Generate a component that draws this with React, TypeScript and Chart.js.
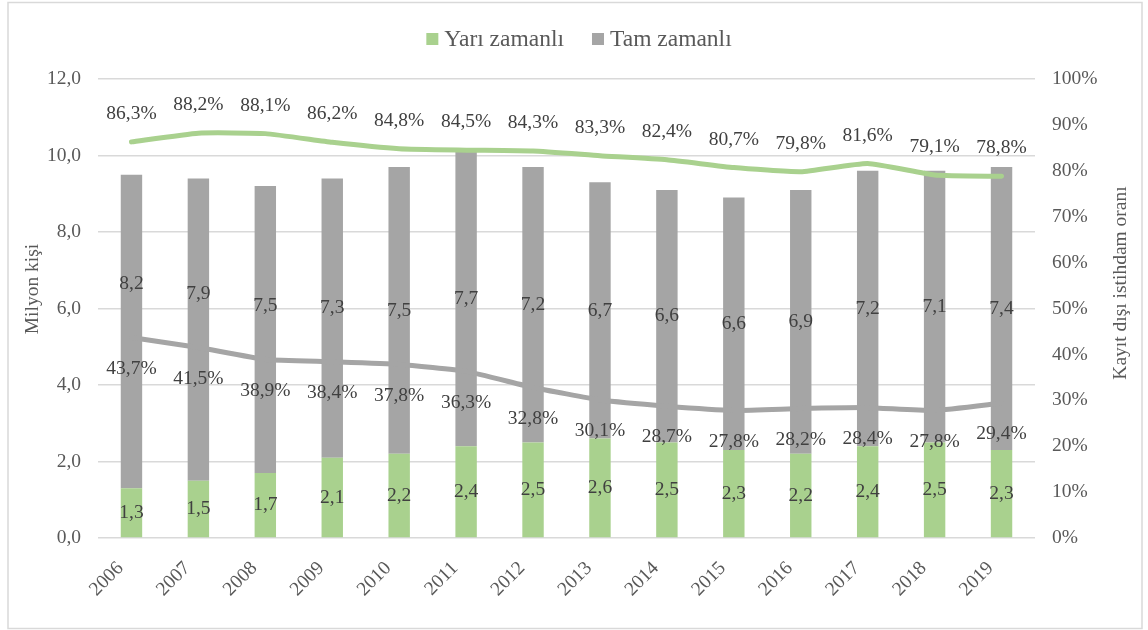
import React, { useEffect, useRef } from "react";
import { Chart, registerables } from "chart.js";

Chart.register(...registerables);

const years = ["2006", "2007", "2008", "2009", "2010", "2011", "2012", "2013", "2014", "2015", "2016", "2017", "2018", "2019"];
const partTime = [1.3, 1.5, 1.7, 2.1, 2.2, 2.4, 2.5, 2.6, 2.5, 2.3, 2.2, 2.4, 2.5, 2.3];
const fullTime = [8.2, 7.9, 7.5, 7.3, 7.5, 7.7, 7.2, 6.7, 6.6, 6.6, 6.9, 7.2, 7.1, 7.4];
const partTimeInformalRate = [86.3, 88.2, 88.1, 86.2, 84.8, 84.5, 84.3, 83.3, 82.4, 80.7, 79.8, 81.6, 79.1, 78.8];
const fullTimeInformalRate = [43.7, 41.5, 38.9, 38.4, 37.8, 36.3, 32.8, 30.1, 28.7, 27.8, 28.2, 28.4, 27.8, 29.4];

const seriesNames = ["Yarı zamanlı", "Tam zamanlı"];
const leftTitle = "Milyon kişi";
const rightTitle = "Kayıt dışı istihdam oranı";

const GREEN = "#A9D18E";
const GRAY = "#A5A5A5";
const FONT = '"Liberation Serif", "Times New Roman", serif';
const TICK_COLOR = "#595959";
const LABEL_COLOR = "#404040";

const fmt1 = (v: number) => v.toFixed(1).replace(".", ",");

const decorPlugin = {
  id: "decor",
  afterDraw(chart: any) {
    const ctx = chart.ctx;
    ctx.save();
    // outer border
    ctx.strokeStyle = "#D9D9D9";
    ctx.lineWidth = 1.5;
    ctx.strokeRect(8, 2.5, 1134, 626);

    // legend (bar series only)
    ctx.font = `23.5px ${FONT}`;
    ctx.textBaseline = "middle";
    ctx.textAlign = "left";
    const items = chart.data.datasets.filter((d: any) => d.type === "bar");
    const box = 12;
    const gap = 6;
    const between = 28;
    const widths = items.map((d: any) => box + gap + ctx.measureText(d.label).width);
    const total = widths.reduce((a: number, b: number) => a + b, 0) + between * (items.length - 1);
    let x = chart.width / 2 + 5 - total / 2;
    const ly = 39;
    items.forEach((d: any, i: number) => {
      ctx.fillStyle = d.backgroundColor;
      ctx.fillRect(x, ly - box / 2, box, box);
      ctx.fillStyle = TICK_COLOR;
      ctx.fillText(d.label, x + box + gap, ly + 1);
      x += widths[i] + between;
    });

    // axis titles (both read bottom-to-top)
    ctx.font = `19.5px ${FONT}`;
    ctx.fillStyle = TICK_COLOR;
    ctx.textAlign = "center";
    ctx.textBaseline = "middle";
    ctx.save();
    ctx.translate(33, 289);
    ctx.rotate(-Math.PI / 2);
    ctx.fillText(leftTitle, 0, 0);
    ctx.restore();
    ctx.save();
    ctx.translate(1121, 283);
    ctx.rotate(-Math.PI / 2);
    ctx.fillText(rightTitle, 0, 0);
    ctx.restore();
    ctx.restore();
  },
};

const labelPlugin = {
  id: "valueLabels",
  afterDatasetsDraw(chart: any) {
    const ctx = chart.ctx;
    ctx.save();
    ctx.font = `19.5px ${FONT}`;
    ctx.fillStyle = LABEL_COLOR;
    ctx.textAlign = "center";
    ctx.textBaseline = "middle";
    const ds = chart.data.datasets;
    // line labels
    const lineLabelY: Record<string, number[]> = {};
    ds.forEach((d: any, di: number) => {
      if (d.type !== "line") return;
      const meta = chart.getDatasetMeta(di);
      lineLabelY[d.key] = [];
      meta.data.forEach((p: any, i: number) => {
        const y = d.labelPos === "above" ? p.y - 28 : p.y + 31;
        lineLabelY[d.key].push(y);
        ctx.fillText(fmt1(d.data[i]) + "%", p.x, y);
      });
    });
    // bar labels (centered in segment, nudged up to avoid the line labels)
    ds.forEach((d: any, di: number) => {
      if (d.type !== "bar") return;
      const meta = chart.getDatasetMeta(di);
      meta.data.forEach((b: any, i: number) => {
        let y = (b.y + b.base) / 2;
        if (d.avoid && lineLabelY[d.avoid]) {
          y = Math.min(y, lineLabelY[d.avoid][i] - 85);
        }
        ctx.fillText(fmt1(d.data[i]), b.x, y);
      });
    });
    ctx.restore();
  },
};

export default function App() {
  const ref = useRef<HTMLCanvasElement>(null);

  useEffect(() => {
    if (!ref.current) return;
    const tickFont = { family: FONT, size: 19.5 };
    const chart = new Chart(ref.current, {
      type: "bar",
      data: {
        labels: years,
        datasets: [
          {
            type: "line",
            key: "ptRate",
            labelPos: "above",
            label: "Yarı zamanlı kayıt dışı",
            data: partTimeInformalRate,
            yAxisID: "y1",
            borderColor: GREEN,
            backgroundColor: GREEN,
            borderWidth: 5,
            pointRadius: 0,
            tension: 0.15,
            borderCapStyle: "round",
            borderJoinStyle: "round",
          } as any,
          {
            type: "line",
            key: "ftRate",
            labelPos: "below",
            label: "Tam zamanlı kayıt dışı",
            data: fullTimeInformalRate,
            yAxisID: "y1",
            borderColor: GRAY,
            backgroundColor: GRAY,
            borderWidth: 5,
            pointRadius: 0,
            tension: 0.15,
            borderCapStyle: "round",
            borderJoinStyle: "round",
          } as any,
          {
            type: "bar",
            label: seriesNames[0],
            data: partTime,
            yAxisID: "y",
            backgroundColor: GREEN,
            barPercentage: 0.32,
            categoryPercentage: 1,
          } as any,
          {
            type: "bar",
            label: seriesNames[1],
            avoid: "ftRate",
            data: fullTime,
            yAxisID: "y",
            backgroundColor: GRAY,
            barPercentage: 0.32,
            categoryPercentage: 1,
          } as any,
        ],
      },
      options: {
        responsive: false,
        animation: false,
        layout: { padding: { top: 79, left: 0, right: 0, bottom: 0 } },
        plugins: { legend: { display: false }, tooltip: { enabled: false } },
        scales: {
          x: {
            stacked: true,
            grid: { display: false, drawTicks: false },
            border: { display: false },
            ticks: {
              minRotation: 45,
              maxRotation: 45,
              autoSkip: false,
              padding: 19,
              labelOffset: -11,
              color: TICK_COLOR,
              font: tickFont,
            },
            afterFit(s: any) {
              s.height = 92;
            },
          },
          y: {
            stacked: true,
            position: "left",
            min: 0,
            max: 12,
            ticks: {
              stepSize: 2,
              padding: 17,
              color: TICK_COLOR,
              font: tickFont,
              callback: (v: any) => fmt1(Number(v)),
            },
            grid: { color: "#D9D9D9", lineWidth: 1.5, drawTicks: false },
            border: { display: false },
            afterFit(s: any) {
              s.width = 98;
            },
          },
          y1: {
            position: "right",
            min: 0,
            max: 100,
            ticks: {
              stepSize: 10,
              padding: 17,
              color: TICK_COLOR,
              font: tickFont,
              callback: (v: any) => `${v}%`,
            },
            grid: { display: false, drawTicks: false },
            border: { display: false },
            afterFit(s: any) {
              s.width = 113;
            },
          },
        },
      } as any,
      plugins: [labelPlugin, decorPlugin],
    });
    return () => chart.destroy();
  }, []);

  return (
    <div style={{ position: "absolute", left: 0, top: 0, width: 1148, height: 630, background: "#fff" }}>
      <canvas ref={ref} width={1148} height={630} style={{ display: "block" }} />
    </div>
  );
}
